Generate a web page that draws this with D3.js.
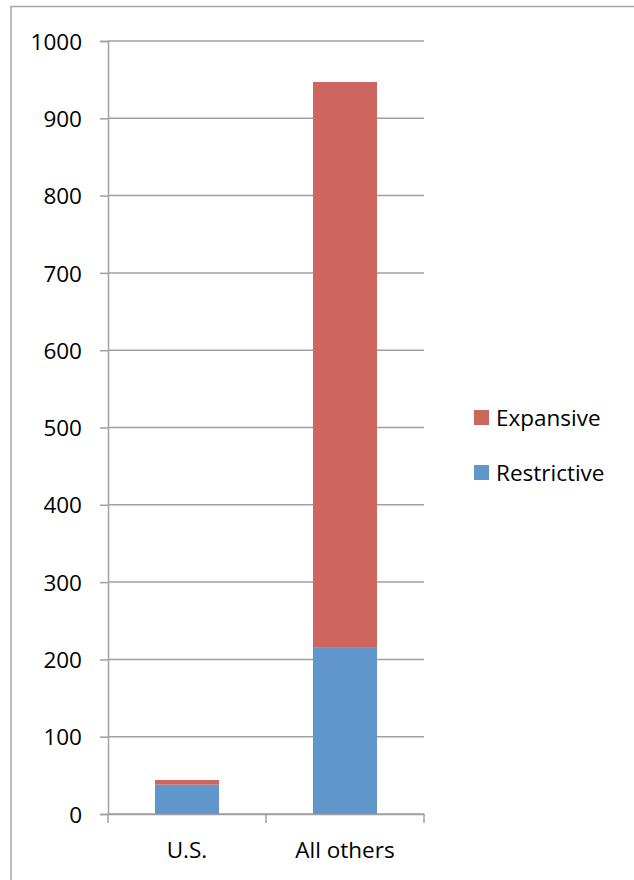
<!DOCTYPE html>
<html lang="en">
<head>
<meta charset="UTF-8">
<title>Restrictive vs Expansive</title>
<script src="https://d3js.org/d3.v7.min.js"></script>
<style>
    body { margin: 0; background: white; }
    svg text { font-family: "Open Sans", sans-serif; fill: #000; }
</style>
</head>
<body>
<svg id="chart"></svg>
<script>
const categories = ["U.S.", "All others"];
const seriesNames = ["Restrictive", "Expansive"];
const restrictive = [38, 215];
const expansive = [6, 732];
const yTicks = [0, 100, 200, 300, 400, 500, 600, 700, 800, 900, 1000];
const colors = { Restrictive: "#6196CA", Expansive: "#CE665F" };

const w = 634, h = 880;
const plotLeft = 108, plotRight = 424, plotTop = 41, plotBottom = 814;
const fontSize = "22.5px";

const svg = d3.select("#chart").attr("width", w).attr("height", h);

// outer frame (only top and left visible in the picture)
svg.append("rect")
   .attr("x", 11).attr("y", 6.5)
   .attr("width", w + 20).attr("height", h + 20)
   .attr("fill", "none").attr("stroke", "#a6a6a6").attr("stroke-width", 1.5);

const x = d3.scaleBand().domain(categories).range([plotLeft, plotRight]);
const y = d3.scaleLinear().domain([0, 1000]).range([plotBottom, plotTop]);

// gridlines
svg.append("g")
   .selectAll("line")
   .data(yTicks)
   .join("line")
   .attr("x1", plotLeft).attr("x2", plotRight)
   .attr("y1", d => y(d)).attr("y2", d => y(d))
   .attr("stroke", "#a0a0a0").attr("stroke-width", 1.5);

// y axis
const yAxis = d3.axisLeft(y).tickValues(yTicks).tickFormat(d3.format("d")).tickSize(8).tickPadding(18);
const gy = svg.append("g").attr("transform", `translate(${plotLeft},0)`).call(yAxis);
gy.select(".domain").attr("stroke", "#a0a0a0").attr("stroke-width", 1.5);
gy.selectAll(".tick line").attr("stroke", "#a0a0a0").attr("stroke-width", 1.5);
gy.selectAll(".tick text").style("font-size", fontSize).attr("dy", "0.36em");

// stacked bars
const rows = categories.map((c, i) => ({ cat: c, Restrictive: restrictive[i], Expansive: expansive[i] }));
const stacked = d3.stack().keys(seriesNames)(rows);
const barW = x.bandwidth() * 0.405;

svg.append("g")
   .selectAll("g")
   .data(stacked)
   .join("g")
   .attr("fill", d => colors[d.key])
   .selectAll("rect")
   .data(d => d)
   .join("rect")
   .attr("x", d => x(d.data.cat) + (x.bandwidth() - barW) / 2)
   .attr("y", d => y(d[1]))
   .attr("width", barW)
   .attr("height", d => y(d[0]) - y(d[1]));

// x axis
const xAxis = d3.axisBottom(x).tickSize(0).tickPadding(28);
const gx = svg.append("g").attr("transform", `translate(0,${plotBottom})`).call(xAxis);
gx.select(".domain").attr("stroke", "#a0a0a0").attr("stroke-width", 1.5);
gx.selectAll(".tick text").style("font-size", fontSize);
// category boundary ticks
const bounds = [plotLeft, ...categories.map(c => x(c) + x.bandwidth())];
gx.selectAll(".bound")
  .data(bounds)
  .join("line")
  .attr("class", "bound")
  .attr("x1", d => d).attr("x2", d => d)
  .attr("y1", 0).attr("y2", 9)
  .attr("stroke", "#a0a0a0").attr("stroke-width", 1.5);

// legend (Expansive on top)
const legend = svg.append("g").attr("transform", "translate(474,410)");
const legendItems = seriesNames.slice().reverse();
const li = legend.selectAll("g")
   .data(legendItems)
   .join("g")
   .attr("transform", (d, i) => `translate(0,${i * 55})`);
li.append("rect").attr("width", 15).attr("height", 15).attr("fill", d => colors[d]);
li.append("text")
  .attr("x", 22).attr("y", 7.5).attr("dy", "0.36em")
  .style("font-size", fontSize)
  .text(d => d);
</script>
</body>
</html>
